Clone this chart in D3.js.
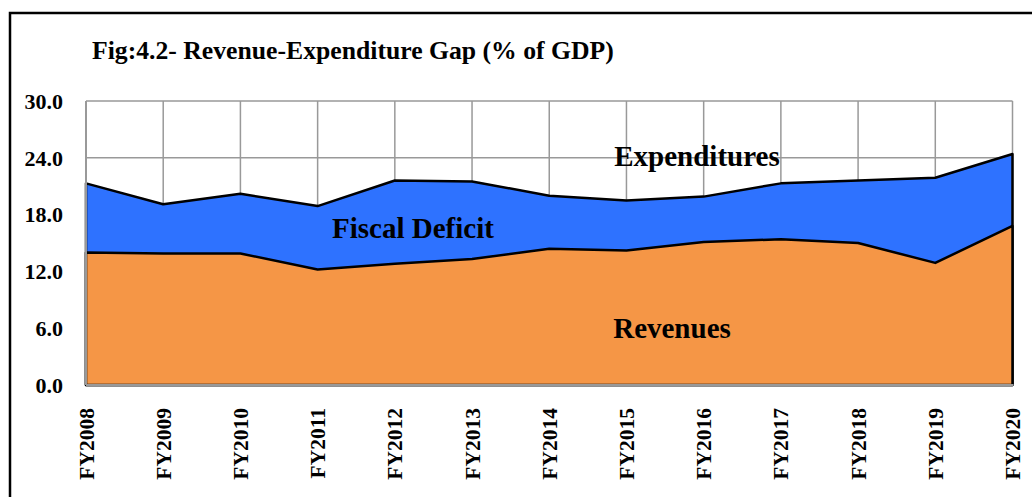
<!DOCTYPE html>
<html>
<head>
<meta charset="utf-8">
<script src="https://cdn.jsdelivr.net/npm/d3@7"></script>
<style>
  body { margin: 0; background: #fff; }
  svg text { font-family: "Liberation Serif", "Times New Roman", serif; font-weight: bold; fill: #000; }
</style>
</head>
<body>
<svg id="area" width="1032" height="497"></svg>
<script>
const years = ["FY2008","FY2009","FY2010","FY2011","FY2012","FY2013","FY2014",
  "FY2015","FY2016","FY2017","FY2018","FY2019","FY2020"];
const revenues = [14.0, 13.9, 13.9, 12.2, 12.8, 13.3, 14.4, 14.2, 15.1, 15.4, 15.0, 12.9, 16.8];
const expenditures = [21.3, 19.1, 20.2, 18.9, 21.6, 21.5, 20.0, 19.5, 19.9, 21.3, 21.6, 21.9, 24.4];
const yTicks = [0, 6, 12, 18, 24, 30];

const svg = d3.select("#area");
const plotLeft = 86, plotRight = 1012.5, plotTop = 101, plotBottom = 385;

// outer frame
svg.append("rect")
  .attr("x", 10).attr("y", 13)
  .attr("width", 1040).attr("height", 500)
  .attr("fill", "none").attr("stroke", "#000").attr("stroke-width", 2.5);

svg.append("text")
  .attr("x", 92).attr("y", 59)
  .style("font-size", "25.7px")
  .text("Fig:4.2- Revenue-Expenditure Gap (% of GDP)");

const x = d3.scalePoint().domain(years).range([plotLeft, plotRight]);
const y = d3.scaleLinear().domain([0, 30]).range([plotBottom, plotTop]);

// gridlines
const grid = svg.append("g").attr("class", "grid");
grid.selectAll("line.h").data(yTicks).join("line")
  .attr("class", "h")
  .attr("x1", plotLeft).attr("x2", plotRight)
  .attr("y1", d => y(d)).attr("y2", d => y(d))
  .attr("stroke", "#999").attr("stroke-width", 1.5);
grid.selectAll("line.v").data(years).join("line")
  .attr("class", "v")
  .attr("x1", d => x(d)).attr("x2", d => x(d))
  .attr("y1", plotTop).attr("y2", plotBottom)
  .attr("stroke", "#999").attr("stroke-width", 1.5);

const area = d3.area()
  .x((d, i) => x(years[i]))
  .y0(y(0))
  .y1(d => y(d));

svg.append("path").datum(expenditures)
  .attr("d", area)
  .attr("fill", "#2E72FF")
  .attr("stroke", "#000").attr("stroke-width", 2.5)
  .attr("stroke-linejoin", "round");

svg.append("path").datum(revenues)
  .attr("d", area)
  .attr("fill", "#F59646")
  .attr("stroke", "#000").attr("stroke-width", 2.5)
  .attr("stroke-linejoin", "round");

// axis lines over the area edges
svg.append("line")
  .attr("x1", plotLeft).attr("x2", plotLeft).attr("y1", plotTop).attr("y2", plotBottom)
  .attr("stroke", "#999").attr("stroke-width", 2);
svg.append("line")
  .attr("x1", plotLeft).attr("x2", plotRight + 1).attr("y1", plotBottom).attr("y2", plotBottom)
  .attr("stroke", "#999").attr("stroke-width", 2);

// y tick labels
svg.append("g").selectAll("text").data(yTicks).join("text")
  .attr("x", 63).attr("y", d => y(d))
  .attr("dy", "0.35em")
  .attr("text-anchor", "end")
  .style("font-size", "22px")
  .text(d => d.toFixed(1));

// x labels, rotated
svg.append("g").selectAll("text").data(years).join("text")
  .attr("transform", d => "translate(" + x(d) + ",408) rotate(-90)")
  .attr("dy", "0.35em")
  .attr("text-anchor", "end")
  .style("font-size", "21.5px")
  .text(d => d);

// series labels
svg.append("text").attr("x", 697).attr("y", 166)
  .attr("text-anchor", "middle").style("font-size", "29px").text("Expenditures");
svg.append("text").attr("x", 413).attr("y", 238)
  .attr("text-anchor", "middle").style("font-size", "29px").text("Fiscal Deficit");
svg.append("text").attr("x", 672).attr("y", 338)
  .attr("text-anchor", "middle").style("font-size", "29px").text("Revenues");
</script>
</body>
</html>
